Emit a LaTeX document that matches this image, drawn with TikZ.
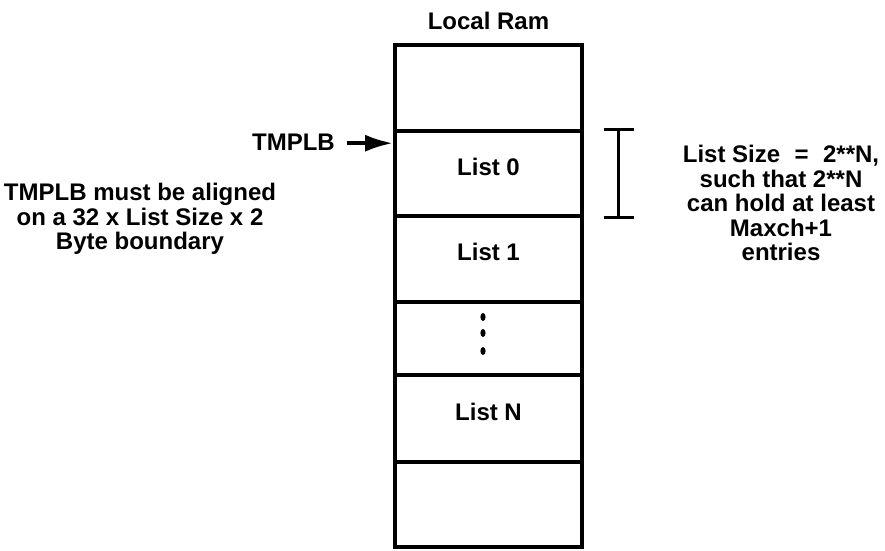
\documentclass[tikz,border=0pt]{standalone}
\usepackage{fontspec}
\setmainfont{Liberation Sans}
\usetikzlibrary{arrows.meta,calc,positioning}

\tikzset{
  cell/.style={draw, line width=3.6pt, minimum width=187pt, inner sep=0pt},
  lbl/.style={font=\bfseries\fontsize{24}{24.5}\selectfont, inner sep=0pt, align=center},
  bracket/.style={line width=3.3pt}
}

\begin{document}
\begin{tikzpicture}[x=1pt, y=-1pt]
            \useasboundingbox (0,0) rectangle (885,550);

            % Celle della memoria locale
            \node[cell, minimum height=86pt] (top)   at (488.5,88)  {};
            \node[cell, minimum height=85pt] (list0) at (488.5,173.5) {};
            \node[cell, minimum height=86pt] (list1) at (488.5,259)  {};
            \node[cell, minimum height=73pt] (dots)  at (488.5,338.5) {};
            \node[cell, minimum height=87pt] (listN) at (488.5,418.5) {};
            \node[cell, minimum height=85pt] (bot)   at (488.5,504.5) {};

            % Titolo e nomi delle liste
            \node[lbl, anchor=base] (title) at (488.5,29) {Local Ram};
            \node[lbl, anchor=base] at ([yshift=-1.5pt]list0.center) {List 0};
            \node[lbl, anchor=base] at ([yshift=-1.5pt]list1.center) {List 1};
            \node[lbl, anchor=base] at ([yshift=-1.5pt]listN.center) {List N};

            % Puntini verticali
            \foreach \dy in {-21.5,-5.5,12.5}
                \fill ($(dots.center)+(-5.5,\dy)$) ellipse (2.6pt and 4pt);

            % Puntatore TMPLB
            \node[lbl, anchor=base east] (tmplb) at (335,150) {TMPLB};
            \coordinate (tip) at ($(list0.north west)+(0,14)$);
            \coordinate (start) at ($(tmplb.east)+(12,0)$);
            \draw[line width=4pt, -{Latex[length=28pt,width=17pt]}] (start |- tip) -- (tip);

            % Nota di allineamento
            \node[lbl] (align) at (140,219) {TMPLB must be aligned\\on a 32 x List Size x 2\\Byte boundary};

            % Parentesi sulla dimensione della lista
            \coordinate (btop) at ($(list0.north east)+(35,0)$);
            \coordinate (bbot) at ($(list0.south east)+(35,0)$);
            \draw[bracket] (btop) -- (bbot);
            \draw[bracket] ($(btop)+(-15,0)$) -- ($(btop)+(15,0)$);
            \draw[bracket] ($(bbot)+(-15,0)$) -- ($(bbot)+(15,0)$);

            % Nota sulla dimensione
            \node[lbl] (size) at (781,203) {List Size\hspace{0.6em}=\hspace{0.6em}2**N,\\such that 2**N\\can hold at least\\Maxch+1\\entries};
        \end{tikzpicture}
\end{document}
